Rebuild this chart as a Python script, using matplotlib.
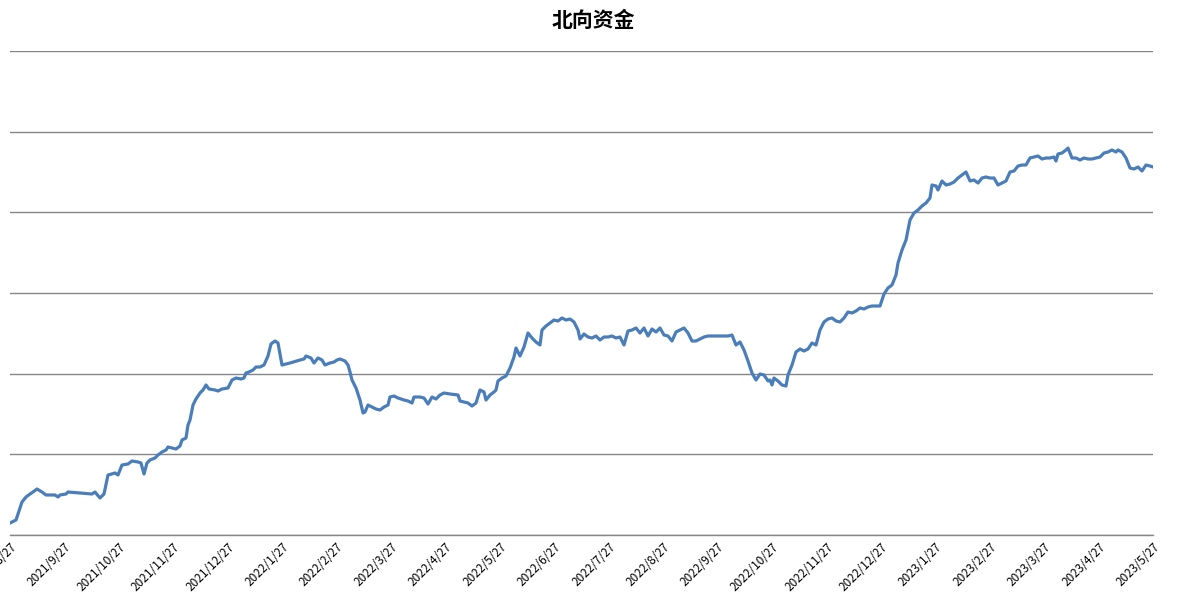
import matplotlib
matplotlib.use("Agg")
import matplotlib.pyplot as plt
import numpy as np

plt.rcParams['font.family'] = ['Noto Sans CJK SC', 'DejaVu Sans']

title = "北向资金"
tick_labels = ["2021/8/27","2021/9/27","2021/10/27","2021/11/27","2021/12/27","2022/1/27",
               "2022/2/27","2022/3/27","2022/4/27","2022/5/27","2022/6/27","2022/7/27",
               "2022/8/27","2022/9/27","2022/10/27","2022/11/27","2022/12/27","2023/1/27",
               "2023/2/27","2023/3/27","2023/4/27","2023/5/27"]

t = [10,16,22,26,30,33,37,42,46,55,58,60,66,68,80,92,95,100,104,108,115,118,122,128,132,138,141,144,147,150,
     155,158,162,166,168,172,176,180,182,186,188,190,193,196,200,203,206,209,215,218,222,228,232,236,241,244,246,249,253,256,
     260,264,268,271,275,278,282,290,300,304,306,311,314,318,322,325,330,334,337,340,345,348,350,352,356,360,363,365,368,372,
     376,380,384,388,390,394,398,404,408,412,414,420,424,428,432,436,440,444,450,458,460,464,468,472,476,480,484,486,490,494,
     496,498,502,506,510,514,516,520,524,528,532,536,540,542,546,550,554,558,562,566,570,574,578,580,584,588,592,596,600,604,
     608,612,616,620,624,628,632,636,640,644,648,652,656,660,664,668,672,676,680,684,688,692,696,700,704,708,712,720,728,732,
     736,740,744,748,752,756,760,764,768,770,772,774,778,782,786,788,792,796,800,804,808,812,816,820,824,828,832,836,840,844,
     848,852,856,860,864,868,872,876,880,884,888,892,896,898,902,906,910,914,918,922,926,930,932,936,938,942,946,950,954,958,
     962,966,970,974,978,982,986,990,994,998,1002,1006,1010,1014,1018,1022,1026,1030,1034,1038,1042,1046,1050,1054,1056,1058,1062,1066,1068,1072,
     1076,1080,1084,1088,1092,1096,1100,1104,1108,1112,1116,1118,1122,1126,1130,1134,1138,1142,1146,1150,1153]
v_px = [523,520,502,497,494,492,489,492,495,495,497,495,494,492,493,494,492,498,494,475,473,475,465,464,461,462,463,474,463,460,
        458,455,452,450,447,448,449,446,440,438,425,420,405,399,393,390,385,389,390,391,389,388,380,378,379,378,373,372,370,367,
        367,365,356,344,341,343,365,363,360,359,356,358,363,358,360,365,363,362,360,359,361,365,372,380,388,400,413,412,405,407,
        409,410,407,405,397,396,398,400,401,403,397,397,398,404,397,399,395,393,394,395,401,402,403,406,403,390,392,400,395,392,
        390,381,378,376,368,357,348,356,347,333,338,342,345,330,326,323,320,321,318,320,319,322,330,339,334,337,338,336,340,337,
        337,336,338,337,345,331,330,328,333,328,336,329,332,328,335,336,341,332,330,328,333,341,341,339,337,336,336,336,336,335,
        345,342,350,361,373,380,374,375,381,380,385,378,381,385,386,375,365,352,349,351,349,343,345,330,322,319,318,321,322,318,
        312,313,311,308,309,307,306,306,306,294,288,285,275,263,250,240,220,213,210,206,203,198,185,186,190,181,185,184,182,178,
        175,172,181,180,183,178,177,178,178,185,183,181,172,171,166,165,165,158,157,156,159,158,158,157,161,154,153,150,148,158,
        158,160,158,159,159,158,157,153,152,150,152,150,152,158,168,169,167,171,165,166,167]
values = [535 - p for p in v_px]

fig = plt.figure(figsize=(11.86, 6.08), dpi=100)
ax = fig.add_axes([10/1186, 1-535/608, 1143/1186, 484/608])
ax.plot(t, values, color='#4a7ebb', lw=2.3, zorder=3)
ax.set_xlim(10, 1153)
ax.set_ylim(0, 484)
ax.set_yticks(np.linspace(0, 484, 7))
ax.set_yticklabels([])
ax.tick_params(axis='y', length=0)
ax.grid(axis='y', color='#868686', lw=1)
ax.axhline(0, color='#868686', lw=1, clip_on=False, zorder=1)
ax.set_axisbelow(True)
for s in ax.spines.values():
    s.set_visible(False)
ax.set_xticks(np.linspace(10, 1153, len(tick_labels)))
ax.set_xticklabels(tick_labels, rotation=45, ha='right', rotation_mode='anchor', fontsize=8.5)
ax.tick_params(axis='x', length=0, pad=4)
fig.text(0.5, 1-20/608, title, ha='center', va='center', fontsize=15, fontweight='bold')
fig.savefig('out.png', dpi=100)
